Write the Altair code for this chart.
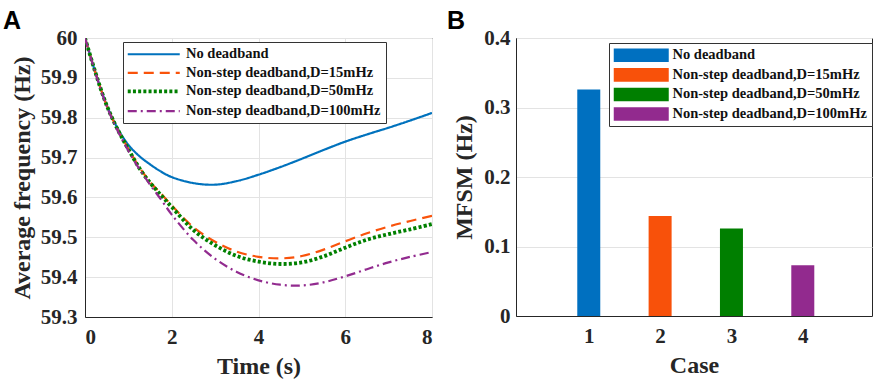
import altair as alt
import pandas as pd

# Panel A: average system frequency after the disturbance
time_s = [0, 0.25, 0.5, 0.75, 1, 1.25, 1.5, 1.75, 2, 2.5, 3, 3.5, 4, 4.5,
          5, 5.5, 6, 6.5, 7, 7.5, 8]
freq_no_db = [60, 59.910, 59.832, 59.774, 59.732, 59.704, 59.683, 59.665, 59.651,
              59.636, 59.632, 59.641, 59.657, 59.676, 59.697, 59.719, 59.740,
              59.758, 59.775, 59.793, 59.812]
freq_d15 = [60, 59.910, 59.831, 59.771, 59.722, 59.676, 59.639, 59.610, 59.580,
            59.525, 59.489, 59.464, 59.451, 59.447, 59.453, 59.469, 59.490,
            59.510, 59.527, 59.541, 59.554]
freq_d50 = [60, 59.910, 59.831, 59.771, 59.721, 59.674, 59.637, 59.606, 59.576,
            59.518, 59.480, 59.453, 59.439, 59.433, 59.437, 59.452, 59.474,
            59.494, 59.508, 59.520, 59.533]
freq_d100 = [60, 59.909, 59.829, 59.768, 59.717, 59.672, 59.632, 59.595, 59.557,
             59.493, 59.446, 59.413, 59.392, 59.381, 59.379, 59.387, 59.402,
             59.420, 59.437, 59.451, 59.463]

# Panel B: maximum frequency deviation per case
cases = [1, 2, 3, 4]
mfsm_hz = [0.326, 0.144, 0.126, 0.073]

series_names = ["No deadband", "Non-step deadband,D=15mHz",
                "Non-step deadband,D=50mHz", "Non-step deadband,D=100mHz"]
line_colors = ["#0072BD", "#F9530B", "#008000", "#922B8F"]
bar_colors = ["#0070C0", "#F8510A", "#007F00", "#922A8E"]
dash_styles = [[1, 0], [10, 6], [3, 2.2], [9, 4, 2, 4]]
line_widths = [2.2, 2.2, 3.8, 2.2]

rows = []
for name, values in zip(series_names, [freq_no_db, freq_d15, freq_d50, freq_d100]):
    for t, f in zip(time_s, values):
        rows.append({"series": name, "t": t, "f": f})
freq_df = pd.DataFrame(rows)
bar_df = pd.DataFrame({"case": cases, "mfsm": mfsm_hz, "series": series_names})

SERIF = "Liberation Serif"
INK = "#262626"
GRID = "#E3E3E3"

axis_common = dict(
    labelFont=SERIF, labelFontWeight="bold", labelFontSize=21, labelColor=INK,
    titleFont=SERIF, titleFontWeight="bold", titleFontSize=24, titleColor=INK,
    domainColor=INK, domainWidth=1, ticks=False, gridColor=GRID, gridWidth=1,
)

legend_common = dict(
    orient="none", title=None, labelFont=SERIF, labelFontWeight="bold",
    labelFontSize=14.5, labelColor="#111111", padding=5, rowPadding=3.6,
    strokeColor="#333333", fillColor="white", labelLimit=400,
)

color_line = alt.Scale(domain=series_names, range=line_colors)
dash_scale = alt.Scale(domain=series_names, range=dash_styles)
width_scale = alt.Scale(type="ordinal", domain=series_names, range=line_widths)

line_legend = alt.Legend(
    legendX=38, legendY=4, symbolType="M-7.5,0H44.5", symbolSize=4,
    labelOffset=43.5, **legend_common,
)

lines = alt.Chart(freq_df).mark_line(interpolate="catmull-rom", clip=True).encode(
    x=alt.X("t:Q", title="Time (s)",
            scale=alt.Scale(domain=[0, 8], nice=False),
            axis=alt.Axis(values=[0, 2, 4, 6, 8], labelPadding=9, titlePadding=7,
                          **axis_common)),
    y=alt.Y("f:Q", title="Average frequency (Hz)",
            scale=alt.Scale(domain=[59.3, 60], nice=False, zero=False),
            axis=alt.Axis(values=[59.3, 59.4, 59.5, 59.6, 59.7, 59.8, 59.9, 60],
                          format=".1~f", labelPadding=8, titlePadding=6,
                          **axis_common)),
    color=alt.Color("series:N", scale=color_line, sort=series_names, legend=line_legend),
    strokeDash=alt.StrokeDash("series:N", scale=dash_scale, sort=series_names,
                              legend=line_legend),
    strokeWidth=alt.StrokeWidth("series:N", scale=width_scale, sort=series_names,
                                legend=line_legend),
    order=alt.Order("t:Q"),
)

label_a = alt.Chart(pd.DataFrame({"txt": ["A"]})).mark_text(
    font="Liberation Sans", fontWeight="bold", fontSize=25, align="left",
    baseline="alphabetic", color="black",
).encode(text="txt:N", x=alt.value(-82), y=alt.value(-9))

panel_a = alt.layer(lines, label_a).properties(width=347, height=279)

bar_legend = alt.Legend(
    legendX=93, legendY=5, symbolType="M-7.5,-6.8H47.5V6.8H-7.5Z", symbolSize=4,
    labelOffset=44, symbolStrokeWidth=0, **legend_common,
)

bars = alt.Chart(bar_df).mark_bar(size=23).encode(
    x=alt.X("case:Q", title="Case",
            scale=alt.Scale(domain=[0.05, 4.9], nice=False, zero=False),
            axis=alt.Axis(values=cases, format="d", grid=False, labelPadding=9,
                          titlePadding=7, **axis_common)),
    y=alt.Y("mfsm:Q", title="MFSM (Hz)",
            scale=alt.Scale(domain=[0, 0.4], nice=False),
            axis=alt.Axis(values=[0, 0.1, 0.2, 0.3, 0.4], format=".1~f",
                          labelPadding=6, titlePadding=7, **axis_common)),
    color=alt.Color("series:N", scale=alt.Scale(domain=series_names, range=bar_colors),
                    sort=series_names, legend=bar_legend),
)

label_b = alt.Chart(pd.DataFrame({"txt": ["B"]})).mark_text(
    font="Liberation Sans", fontWeight="bold", fontSize=25, align="left",
    baseline="alphabetic", color="black",
).encode(text="txt:N", x=alt.value(-69), y=alt.value(-9))

panel_b = alt.layer(bars, label_b).properties(width=356, height=278)

chart = alt.hconcat(panel_a, panel_b, spacing=84, bounds="flush").resolve_scale(
    color="independent", strokeDash="independent", strokeWidth="independent"
).resolve_legend(
    color="independent", strokeDash="independent", strokeWidth="independent"
).configure_view(
    stroke=INK, strokeWidth=1
).properties(
    padding={"left": 2, "top": 8, "right": 0, "bottom": 0},
    background="white",
)

chart.save("out.html", embed_options={"renderer": "svg", "actions": False})
